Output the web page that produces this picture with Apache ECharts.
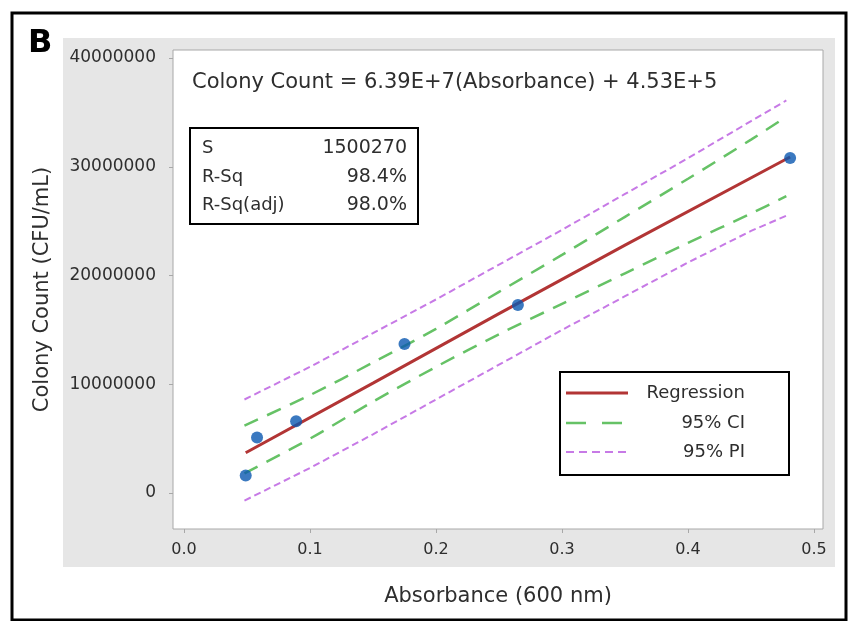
<!DOCTYPE html>
<html>
<head>
<meta charset="utf-8">
<title>Colony count regression</title>
<script src="https://cdn.jsdelivr.net/npm/echarts@6/dist/echarts.min.js"></script>
<style>
  html, body { margin: 0; padding: 0; background: #fff; }
</style>
</head>
<body>
<div id="main" style="width: 849px; height: 621px;"></div>
<script type="text/javascript">
// measured points (absorbance, CFU/mL)
var absorbance = [0.049, 0.058, 0.089, 0.175, 0.265, 0.481];
var colonyCount = [1.6e6, 5.1e6, 6.6e6, 13.7e6, 17.3e6, 30.8e6];

// fitted line
var regX = [0.049, 0.15, 0.25, 0.35, 0.481];
var regY = [3.7e6, 10.1e6, 16.5e6, 22.8e6, 30.9e6];

// confidence / prediction bands
var bandX   = [0.048, 0.1, 0.15, 0.2, 0.25, 0.3, 0.35, 0.4, 0.45, 0.478];
var ciUpper = [6.2e6, 9.0e6, 12.0e6, 15.1e6, 18.5e6, 21.9e6, 25.4e6, 28.9e6, 32.5e6, 34.6e6];
var ciLower = [1.8e6, 5.0e6, 8.4e6, 11.6e6, 14.6e6, 17.4e6, 20.2e6, 23.0e6, 25.7e6, 27.3e6];
var piUpper = [8.6e6, 11.6e6, 14.7e6, 17.8e6, 21.0e6, 24.2e6, 27.5e6, 30.8e6, 34.2e6, 36.1e6];
var piLower = [-0.7e6, 2.3e6, 5.4e6, 8.6e6, 11.8e6, 15.0e6, 18.1e6, 21.2e6, 24.1e6, 25.5e6];

// tick labels
var xTicks = [0, 0.1, 0.2, 0.3, 0.4, 0.5];
var yTicks = [0, 10000000, 20000000, 30000000, 40000000];

var statNames = ['S', 'R-Sq', 'R-Sq(adj)'];
var statValues = ['1500270', '98.4%', '98.0%'];
var legendNames = ['Regression', '95% CI', '95% PI'];

function pairs(xs, ys) {
	var out = [];
	for (var i = 0; i < xs.length; i++) {
		out.push([xs[i], ys[i]]);
	}
	return out;
}

var FONT = '"DejaVu Sans"';
var TXT = '#2e2e2e';
var RED = '#b23535';
var GREEN = '#66c266';
var PURPLE = '#c77ae6';

var myChart = echarts.init(document.getElementById('main'));

var graphics = [
	// outer frame and grey panel
	{ type: 'rect', z: -20, shape: { x: 12, y: 13, width: 834, height: 607 },
	  style: { fill: '#fff', stroke: '#000', lineWidth: 3 } },
	{ type: 'rect', z: -10, shape: { x: 63, y: 38, width: 772, height: 529 },
	  style: { fill: '#e6e6e6' } },
	{ type: 'text', z: 100, x: 28, y: 44,
	  style: { text: 'B', font: 'bold 32px ' + FONT, fill: '#000', verticalAlign: 'middle' } },
	// equation
	{ type: 'text', z: 100, x: 192, y: 83,
	  style: { text: 'Colony Count = 6.39E+7(Absorbance) + 4.53E+5', font: '21px ' + FONT,
	           fill: TXT, verticalAlign: 'middle' } },
	// stats box
	{ type: 'rect', z: 100, shape: { x: 190, y: 128, width: 228, height: 96 },
	  style: { fill: '#fff', stroke: '#000', lineWidth: 2 } }
];
var statRows = [148, 177, 205];
for (var i = 0; i < statNames.length; i++) {
	graphics.push({ type: 'text', z: 101, x: 202, y: statRows[i],
		style: { text: statNames[i], font: '18px ' + FONT, fill: TXT, verticalAlign: 'middle' } });
	graphics.push({ type: 'text', z: 101, x: 407, y: statRows[i],
		style: { text: statValues[i], font: '19px ' + FONT, fill: TXT, align: 'right', verticalAlign: 'middle' } });
}
// legend box
graphics.push({ type: 'rect', z: 100, shape: { x: 560, y: 372, width: 229, height: 103 },
	style: { fill: '#fff', stroke: '#000', lineWidth: 2 } });
var legRows = [393, 423, 452];
var legStyles = [
	{ stroke: RED, lineWidth: 3 },
	{ stroke: GREEN, lineWidth: 2.5, lineDash: [20, 16] },
	{ stroke: PURPLE, lineWidth: 2, lineDash: [8, 5] }
];
for (var j = 0; j < legendNames.length; j++) {
	graphics.push({ type: 'line', z: 101, shape: { x1: 566, y1: legRows[j], x2: 628, y2: legRows[j] },
		style: legStyles[j] });
	graphics.push({ type: 'text', z: 101, x: 745, y: legRows[j],
		style: { text: legendNames[j], font: '18px ' + FONT, fill: TXT, align: 'right', verticalAlign: 'middle' } });
}

var option = {
	animation: false,
	graphic: graphics,
	grid: {
		left: 173, top: 50, width: 650, height: 479,
		show: true, backgroundColor: '#fff', borderColor: '#a8a8a8', borderWidth: 1
	},
	xAxis: {
		type: 'value',
		min: -0.0087, max: 0.5071,
		name: 'Absorbance (600 nm)',
		nameLocation: 'middle', nameGap: 57,
		nameTextStyle: { fontFamily: 'DejaVu Sans', fontSize: 21, color: TXT },
		splitLine: { show: false },
		axisLine: { show: false, onZero: false },
		axisTick: { show: true, length: 4, customValues: xTicks, lineStyle: { color: '#a8a8a8' } },
		axisLabel: {
			customValues: xTicks, margin: 13,
			fontFamily: 'DejaVu Sans', fontSize: 16, color: TXT,
			formatter: function (v) { return v.toFixed(1); }
		}
	},
	yAxis: {
		type: 'value',
		min: -3.31e6, max: 40.74e6,
		name: 'Colony Count (CFU/mL)',
		nameLocation: 'middle', nameGap: 120,
		nameTextStyle: { fontFamily: 'DejaVu Sans', fontSize: 21, color: TXT },
		splitLine: { show: false },
		axisLine: { show: false, onZero: false },
		axisTick: { show: true, length: 4, customValues: yTicks, lineStyle: { color: '#a8a8a8' } },
		axisLabel: {
			customValues: yTicks, margin: 17,
			fontFamily: 'DejaVu Sans', fontSize: 17, color: TXT,
			formatter: function (v) { return String(Math.round(v)); }
		}
	},
	series: [
		{ name: '95% PI', type: 'line', showSymbol: false, data: pairs(bandX, piUpper),
		  lineStyle: { color: PURPLE, width: 2, type: [7, 4] } },
		{ name: '95% PI low', type: 'line', showSymbol: false, data: pairs(bandX, piLower),
		  lineStyle: { color: PURPLE, width: 2, type: [7, 4] } },
		{ name: '95% CI', type: 'line', smooth: 0.3, showSymbol: false, data: pairs(bandX, ciUpper),
		  lineStyle: { color: GREEN, width: 2.5, type: [15, 10] } },
		{ name: '95% CI low', type: 'line', smooth: 0.3, showSymbol: false, data: pairs(bandX, ciLower),
		  lineStyle: { color: GREEN, width: 2.5, type: [15, 10] } },
		{ name: 'Regression', type: 'line', showSymbol: false, data: pairs(regX, regY),
		  lineStyle: { color: RED, width: 3 } },
		{ name: 'Data', type: 'scatter', symbolSize: 12, z: 5, data: pairs(absorbance, colonyCount),
		  itemStyle: { color: '#0a58b0' } }
	]
};
myChart.setOption(option);
</script>
</body>
</html>
